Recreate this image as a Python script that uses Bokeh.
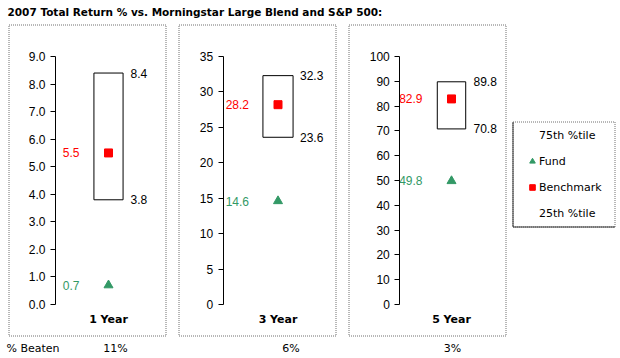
import math
from bokeh.plotting import figure
from bokeh.models import (Range1d, LinearAxis, FixedTicker, PrintfTickFormatter, Legend,
                          LegendItem, ColumnDataSource, BoxAnnotation, Label)
from bokeh.embed import file_html
from bokeh.resources import INLINE
from bokeh.core.properties import value

# ---------------- data ----------------
title_text = "2007 Total Return % vs. Morningstar Large Blend and S&P 500:"
periods = ["1 Year", "3 Year", "5 Year"]
fund = [0.7, 14.6, 49.8]
benchmark = [5.5, 28.2, 82.9]
pct75 = [8.4, 32.3, 89.8]
pct25 = [3.8, 23.6, 70.8]
y_max = [9, 35, 100]
y_ticks = [
    [0, 1, 2, 3, 4, 5, 6, 7, 8, 9],
    [0, 5, 10, 15, 20, 25, 30, 35],
    [0, 10, 20, 30, 40, 50, 60, 70, 80, 90, 100],
]
tick_formats = ["%.1f", "%d", "%d"]
beaten_label = "% Beaten"
pct_beaten = ["11%", "6%", "3%"]
legend_labels = ["75th %tile", "Fund", "Benchmark", "25th %tile"]

# ---------------- layout / style (window pixels) ----------------
W, H = 620, 358
GREEN = "#339966"
RED = "#ff0000"
NUM_FONT = "Liberation Sans"
SANS = "DejaVu Sans"
BORDER_GRAY = "#707070"
panel_box = [(8.5, 165.5), (178.5, 335.5), (348.5, 505.5)]
panel_top, panel_bottom = 24.5, 335.5
axis_x = [55, 222.7, 399.3]          # y-axis line of each panel
cat_x = [108, 277.5, 451]            # category centre of each panel
y0_px, ytop_px = 304, 56             # pixel rows of 0 and of the axis maximum
beaten_dx = [7, 13, 1]
beaten_y = 348

p = figure(width=W, height=H, x_range=Range1d(0, W), y_range=Range1d(H, 0),
           output_backend="svg", toolbar_location=None, min_border=0,
           x_axis_location=None, y_axis_location=None)
p.outline_line_color = None
p.xgrid.grid_line_color = None
p.ygrid.grid_line_color = None
p.background_fill_color = "white"
p.border_fill_color = "white"

extra_x, extra_y = {}, {}
for i in range(3):
    w = 2 * (cat_x[i] - axis_x[i])
    extra_x[f"x{i}"] = Range1d(-cat_x[i] / w, (W - cat_x[i]) / w)
    k = (y0_px - ytop_px) / y_max[i]
    extra_y[f"y{i}"] = Range1d(-(H - y0_px) / k, y0_px / k)
p.extra_x_ranges = extra_x
p.extra_y_ranges = extra_y

# panel borders
for (l, r) in panel_box:
    p.add_layout(BoxAnnotation(left=l, right=r, top=panel_top, bottom=panel_bottom,
                               fill_alpha=0, line_color=BORDER_GRAY, line_alpha=1,
                               line_width=1, line_dash="1 1", level="underlay"))

num_common = dict(text_font=value(NUM_FONT), text_font_size="12px", text_baseline="middle")

fund_renderers, bench_renderers = [], []
for i, cat in enumerate(periods):
    xr, yr = f"x{i}", f"y{i}"
    src = ColumnDataSource(dict(x=[0], fund=[fund[i]], bench=[benchmark[i]],
                                q75=[pct75[i]], q25=[pct25[i]],
                                fund_t=["%.1f" % fund[i]], bench_t=["%.1f" % benchmark[i]],
                                q75_t=["%.1f" % pct75[i]], q25_t=["%.1f" % pct25[i]],
                                beaten=[pct_beaten[i]], by=[beaten_y]))
    rng = dict(x_range_name=xr, y_range_name=yr, source=src)

    p.vbar(x="x", width=0.275, bottom="q25", top="q75", fill_color="white",
           line_color="black", line_width=1, **rng)
    bench_renderers.append(p.scatter(x="x", y="bench", marker="square", size=8,
                                     fill_color=RED, line_color=RED, **rng))
    fund_renderers.append(p.scatter(x="x", y="fund", marker="triangle", size=9,
                                    fill_color=GREEN, line_color=GREEN, **rng))

    p.text(x="x", y="bench", text="bench_t", text_align="right", x_offset=-29,
           text_color=RED, **num_common, **rng)
    p.text(x="x", y="fund", text="fund_t", text_align="right", x_offset=-29,
           text_color=GREEN, **num_common, **rng)
    p.text(x="x", y="q75", text="q75_t", text_align="left", x_offset=22,
           text_color="black", **num_common, **rng)
    p.text(x="x", y="q25", text="q25_t", text_align="left", x_offset=22,
           text_color="black", **num_common, **rng)

    # % beaten row (x from the panel's category scale, y on the page scale)
    p.text(x="x", y="by", text="beaten", x_range_name=xr, source=src, text_align="center",
           x_offset=beaten_dx[i], text_baseline="middle", text_font=value(SANS),
           text_font_size="11px", text_color="black")

    ya = LinearAxis(x_range_name=xr, y_range_name=yr, fixed_location=-0.5,
                    bounds=(0, y_max[i]), ticker=FixedTicker(ticks=y_ticks[i]),
                    formatter=PrintfTickFormatter(format=tick_formats[i]))
    ya.major_tick_out = 5
    ya.major_tick_in = 0
    ya.minor_tick_line_color = None
    ya.axis_line_color = "black"
    ya.major_tick_line_color = "black"
    ya.major_label_standoff = 5
    ya.major_label_text_font = NUM_FONT
    ya.major_label_text_font_size = "12px"
    ya.major_label_text_color = "black"
    p.add_layout(ya, "left")

    xa = LinearAxis(x_range_name=xr, y_range_name=yr, fixed_location=0,
                    ticker=FixedTicker(ticks=[0]), major_label_overrides={0: cat})
    xa.axis_line_color = None
    xa.major_tick_line_color = None
    xa.minor_tick_line_color = None
    xa.major_label_standoff = 2
    xa.major_label_text_font = SANS
    xa.major_label_text_font_size = "11px"
    xa.major_label_text_font_style = "bold"
    xa.major_label_text_color = "black"
    p.add_layout(xa, "below")

# title and "% Beaten" caption
p.add_layout(Label(x=7, y=11, text=title_text, text_font=SANS, text_font_size="10.5px",
                   text_font_style="bold", text_baseline="middle", text_color="black"))
p.text(x=[6], y=[beaten_y], text=[beaten_label], text_align="left", text_baseline="middle",
       text_font=value(SANS), text_font_size="11px", text_color="black")

# legend box
p.add_layout(BoxAnnotation(left=512.5, right=614.5, top=121.5, bottom=226.5, fill_alpha=0,
                           line_color=BORDER_GRAY, line_alpha=1, line_width=1,
                           line_dash="1 1", level="underlay"))
p.line(x=[512.5, 512.5, 614.5], y=[121.5, 226.5, 226.5], line_color="#333333", line_width=1)

blank75 = p.scatter(x=[math.nan], y=[math.nan], marker="square", size=1, fill_alpha=0, line_alpha=0)
blank25 = p.scatter(x=[math.nan], y=[math.nan], marker="square", size=1, fill_alpha=0, line_alpha=0)
legend = Legend(items=[LegendItem(label=legend_labels[0], renderers=[blank75]),
                       LegendItem(label=legend_labels[1], renderers=[fund_renderers[0]]),
                       LegendItem(label=legend_labels[2], renderers=[bench_renderers[0]]),
                       LegendItem(label=legend_labels[3], renderers=[blank25])],
                location=(525, 135), padding=0, spacing=6, glyph_width=14, glyph_height=20,
                label_height=20, label_standoff=0, border_line_color=None,
                background_fill_alpha=0, label_text_font=SANS, label_text_font_size="11px",
                label_text_color="black", margin=0)
p.add_layout(legend)

open("out.html", "w").write(file_html(p, INLINE))
